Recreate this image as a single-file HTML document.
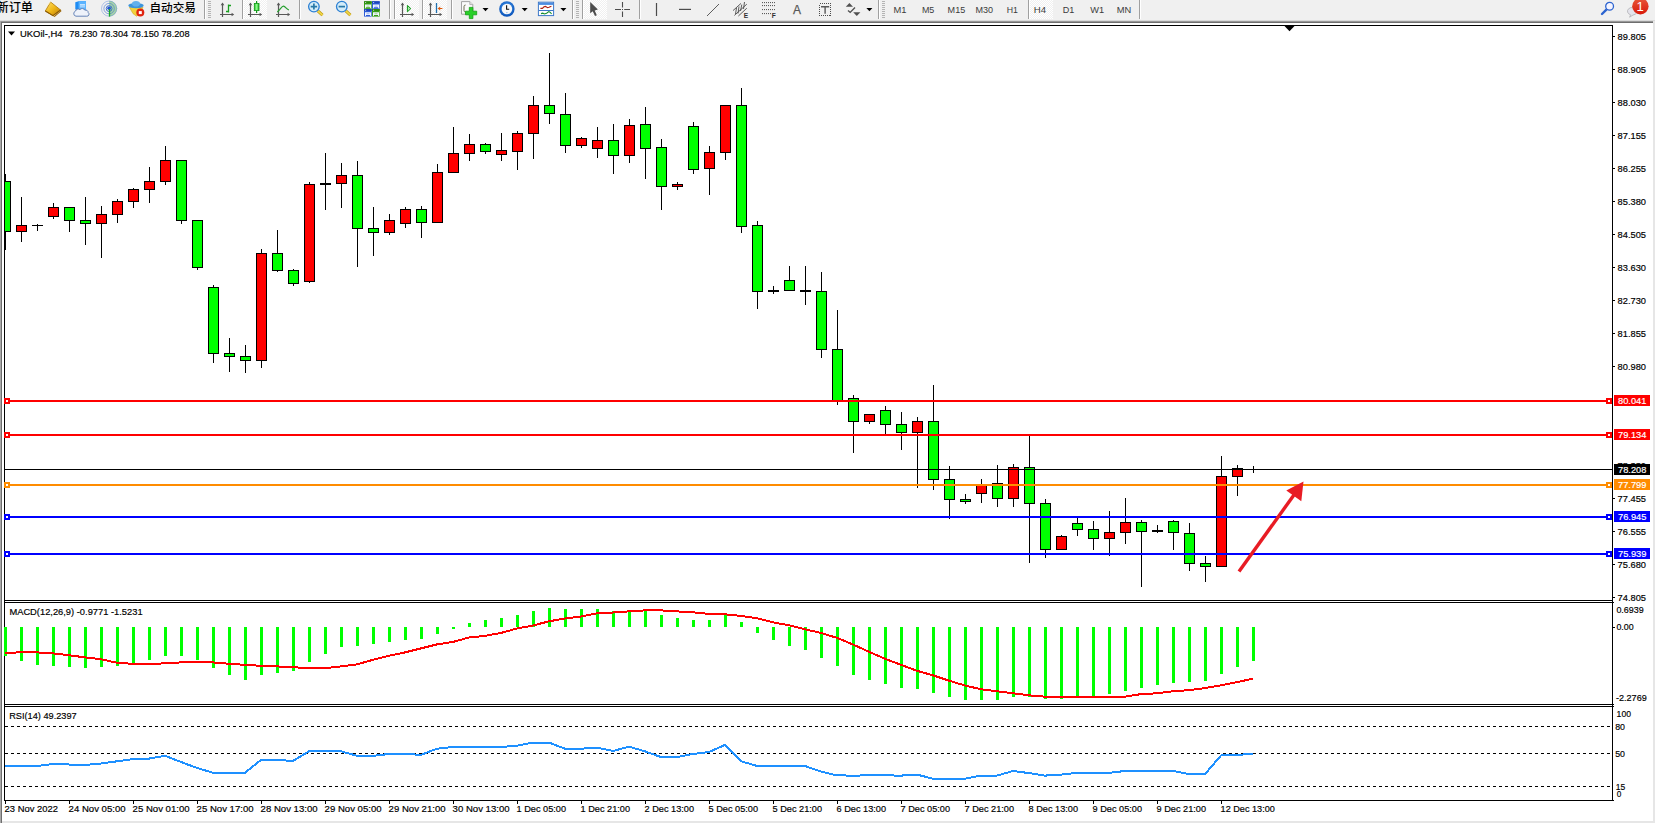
<!DOCTYPE html>
<html lang="zh"><head><meta charset="utf-8"><title>UKOil-,H4</title>
<style>html,body{margin:0;padding:0;background:#fff;overflow:hidden}svg{display:block}text{font-family:"Liberation Sans", "Noto Sans CJK SC", sans-serif;}</style></head><body>
<svg width="1655" height="823" viewBox="0 0 1655 823">
<defs><pattern id="chk" width="2" height="2" patternUnits="userSpaceOnUse"><rect width="2" height="2" fill="#f0f0f0"/><rect width="1" height="1" fill="#fff"/><rect x="1" y="1" width="1" height="1" fill="#fff"/></pattern><linearGradient id="gold" x1="0" y1="0" x2="1" y2="1"><stop offset="0" stop-color="#ffe070"/><stop offset="0.5" stop-color="#f0b818"/><stop offset="1" stop-color="#b87808"/></linearGradient><linearGradient id="redb" x1="0" y1="0" x2="0" y2="1"><stop offset="0" stop-color="#e8583a"/><stop offset="1" stop-color="#d81808"/></linearGradient><radialGradient id="clk" cx="0.5" cy="0.4" r="0.6"><stop offset="0" stop-color="#4aa0f0"/><stop offset="1" stop-color="#0850b8"/></radialGradient><linearGradient id="grn" x1="0" y1="0" x2="1" y2="0"><stop offset="0" stop-color="#20c020"/><stop offset="0.5" stop-color="#90ff90"/><stop offset="1" stop-color="#18b018"/></linearGradient></defs>
<g shape-rendering="crispEdges">
<rect x="0" y="0" width="1655" height="823" fill="#ffffff"/>
<rect x="0" y="0" width="1655" height="20" fill="#f0f0f0"/>
<rect x="0" y="20" width="1655" height="1" fill="#dadada"/>
<rect x="0" y="21" width="1655" height="1" fill="#989898"/>
<rect x="0" y="22" width="1655" height="1" fill="#6e6e6e"/>
<rect x="0" y="21" width="1" height="802" fill="#a8a8a8"/>
<rect x="1" y="22" width="1" height="801" fill="#6e6e6e"/>
<rect x="1653" y="21" width="2" height="802" fill="#e6e6e6"/>
<rect x="0" y="821" width="1655" height="2" fill="#e6e6e6"/>
<rect x="0" y="821" width="1" height="2" fill="#a8a8a8"/>
<rect x="1" y="821" width="1" height="2" fill="#6e6e6e"/>
<rect x="4" y="25" width="1609" height="1" fill="#000"/>
<rect x="4" y="25" width="1" height="776" fill="#000"/>
<rect x="1612" y="25" width="1" height="776" fill="#000"/>
<rect x="4" y="600" width="1609" height="1" fill="#000"/>
<rect x="4" y="602" width="1609" height="1" fill="#000"/>
<rect x="4" y="704" width="1609" height="1" fill="#000"/>
<rect x="4" y="706" width="1609" height="1" fill="#000"/>
<rect x="4" y="800" width="1609" height="1" fill="#000"/>
<rect x="1613" y="602" width="1" height="1" fill="#000"/>
<rect x="1613" y="704" width="1" height="1" fill="#000"/>
<rect x="1613" y="706" width="1" height="1" fill="#000"/>
<rect x="1613" y="800" width="1" height="1" fill="#000"/>
</g>
<g shape-rendering="crispEdges">
<clipPath id="cm"><rect x="5" y="26" width="1607" height="574"/></clipPath>
<g clip-path="url(#cm)">
<rect x="5" y="174" width="1" height="76" fill="#000"/>
<rect x="0" y="181" width="11" height="51" fill="#000"/>
<rect x="1" y="182" width="9" height="49" fill="#00ff00"/>
<rect x="21" y="197" width="1" height="45" fill="#000"/>
<rect x="16" y="225" width="11" height="7" fill="#000"/>
<rect x="17" y="226" width="9" height="5" fill="#ff0000"/>
<rect x="37" y="224" width="1" height="7" fill="#000"/>
<rect x="32" y="225" width="11" height="1" fill="#000"/>
<rect x="53" y="203" width="1" height="16" fill="#000"/>
<rect x="48" y="207" width="11" height="10" fill="#000"/>
<rect x="49" y="208" width="9" height="8" fill="#ff0000"/>
<rect x="69" y="207" width="1" height="25" fill="#000"/>
<rect x="64" y="207" width="11" height="14" fill="#000"/>
<rect x="65" y="208" width="9" height="12" fill="#00ff00"/>
<rect x="85" y="197" width="1" height="48" fill="#000"/>
<rect x="80" y="220" width="11" height="4" fill="#000"/>
<rect x="81" y="221" width="9" height="2" fill="#00ff00"/>
<rect x="101" y="206" width="1" height="52" fill="#000"/>
<rect x="96" y="214" width="11" height="10" fill="#000"/>
<rect x="97" y="215" width="9" height="8" fill="#ff0000"/>
<rect x="117" y="199" width="1" height="24" fill="#000"/>
<rect x="112" y="201" width="11" height="14" fill="#000"/>
<rect x="113" y="202" width="9" height="12" fill="#ff0000"/>
<rect x="133" y="188" width="1" height="20" fill="#000"/>
<rect x="128" y="189" width="11" height="13" fill="#000"/>
<rect x="129" y="190" width="9" height="11" fill="#ff0000"/>
<rect x="149" y="167" width="1" height="36" fill="#000"/>
<rect x="144" y="181" width="11" height="9" fill="#000"/>
<rect x="145" y="182" width="9" height="7" fill="#ff0000"/>
<rect x="165" y="146" width="1" height="39" fill="#000"/>
<rect x="160" y="160" width="11" height="22" fill="#000"/>
<rect x="161" y="161" width="9" height="20" fill="#ff0000"/>
<rect x="181" y="160" width="1" height="64" fill="#000"/>
<rect x="176" y="160" width="11" height="61" fill="#000"/>
<rect x="177" y="161" width="9" height="59" fill="#00ff00"/>
<rect x="197" y="220" width="1" height="50" fill="#000"/>
<rect x="192" y="220" width="11" height="48" fill="#000"/>
<rect x="193" y="221" width="9" height="46" fill="#00ff00"/>
<rect x="213" y="285" width="1" height="78" fill="#000"/>
<rect x="208" y="287" width="11" height="67" fill="#000"/>
<rect x="209" y="288" width="9" height="65" fill="#00ff00"/>
<rect x="229" y="338" width="1" height="34" fill="#000"/>
<rect x="224" y="353" width="11" height="4" fill="#000"/>
<rect x="225" y="354" width="9" height="2" fill="#00ff00"/>
<rect x="245" y="345" width="1" height="28" fill="#000"/>
<rect x="240" y="356" width="11" height="5" fill="#000"/>
<rect x="241" y="357" width="9" height="3" fill="#00ff00"/>
<rect x="261" y="249" width="1" height="119" fill="#000"/>
<rect x="256" y="253" width="11" height="108" fill="#000"/>
<rect x="257" y="254" width="9" height="106" fill="#ff0000"/>
<rect x="277" y="230" width="1" height="42" fill="#000"/>
<rect x="272" y="253" width="11" height="18" fill="#000"/>
<rect x="273" y="254" width="9" height="16" fill="#00ff00"/>
<rect x="293" y="269" width="1" height="17" fill="#000"/>
<rect x="288" y="270" width="11" height="14" fill="#000"/>
<rect x="289" y="271" width="9" height="12" fill="#00ff00"/>
<rect x="309" y="182" width="1" height="101" fill="#000"/>
<rect x="304" y="184" width="11" height="98" fill="#000"/>
<rect x="305" y="185" width="9" height="96" fill="#ff0000"/>
<rect x="325" y="153" width="1" height="57" fill="#000"/>
<rect x="320" y="183" width="11" height="2" fill="#000"/>
<rect x="341" y="163" width="1" height="45" fill="#000"/>
<rect x="336" y="175" width="11" height="9" fill="#000"/>
<rect x="337" y="176" width="9" height="7" fill="#ff0000"/>
<rect x="357" y="161" width="1" height="106" fill="#000"/>
<rect x="352" y="175" width="11" height="54" fill="#000"/>
<rect x="353" y="176" width="9" height="52" fill="#00ff00"/>
<rect x="373" y="207" width="1" height="49" fill="#000"/>
<rect x="368" y="228" width="11" height="5" fill="#000"/>
<rect x="369" y="229" width="9" height="3" fill="#00ff00"/>
<rect x="389" y="214" width="1" height="21" fill="#000"/>
<rect x="384" y="220" width="11" height="13" fill="#000"/>
<rect x="385" y="221" width="9" height="11" fill="#ff0000"/>
<rect x="405" y="207" width="1" height="21" fill="#000"/>
<rect x="400" y="209" width="11" height="15" fill="#000"/>
<rect x="401" y="210" width="9" height="13" fill="#ff0000"/>
<rect x="421" y="206" width="1" height="32" fill="#000"/>
<rect x="416" y="209" width="11" height="14" fill="#000"/>
<rect x="417" y="210" width="9" height="12" fill="#00ff00"/>
<rect x="437" y="164" width="1" height="59" fill="#000"/>
<rect x="432" y="172" width="11" height="51" fill="#000"/>
<rect x="433" y="173" width="9" height="49" fill="#ff0000"/>
<rect x="453" y="127" width="1" height="45" fill="#000"/>
<rect x="448" y="153" width="11" height="20" fill="#000"/>
<rect x="449" y="154" width="9" height="18" fill="#ff0000"/>
<rect x="469" y="134" width="1" height="27" fill="#000"/>
<rect x="464" y="144" width="11" height="10" fill="#000"/>
<rect x="465" y="145" width="9" height="8" fill="#ff0000"/>
<rect x="485" y="143" width="1" height="11" fill="#000"/>
<rect x="480" y="144" width="11" height="8" fill="#000"/>
<rect x="481" y="145" width="9" height="6" fill="#00ff00"/>
<rect x="501" y="133" width="1" height="28" fill="#000"/>
<rect x="496" y="150" width="11" height="5" fill="#000"/>
<rect x="497" y="151" width="9" height="3" fill="#ff0000"/>
<rect x="517" y="131" width="1" height="39" fill="#000"/>
<rect x="512" y="133" width="11" height="19" fill="#000"/>
<rect x="513" y="134" width="9" height="17" fill="#ff0000"/>
<rect x="533" y="96" width="1" height="63" fill="#000"/>
<rect x="528" y="105" width="11" height="29" fill="#000"/>
<rect x="529" y="106" width="9" height="27" fill="#ff0000"/>
<rect x="549" y="53" width="1" height="71" fill="#000"/>
<rect x="544" y="105" width="11" height="9" fill="#000"/>
<rect x="545" y="106" width="9" height="7" fill="#00ff00"/>
<rect x="565" y="93" width="1" height="60" fill="#000"/>
<rect x="560" y="114" width="11" height="32" fill="#000"/>
<rect x="561" y="115" width="9" height="30" fill="#00ff00"/>
<rect x="581" y="137" width="1" height="11" fill="#000"/>
<rect x="576" y="138" width="11" height="8" fill="#000"/>
<rect x="577" y="139" width="9" height="6" fill="#ff0000"/>
<rect x="597" y="127" width="1" height="31" fill="#000"/>
<rect x="592" y="140" width="11" height="9" fill="#000"/>
<rect x="593" y="141" width="9" height="7" fill="#ff0000"/>
<rect x="613" y="124" width="1" height="50" fill="#000"/>
<rect x="608" y="140" width="11" height="16" fill="#000"/>
<rect x="609" y="141" width="9" height="14" fill="#00ff00"/>
<rect x="629" y="119" width="1" height="44" fill="#000"/>
<rect x="624" y="125" width="11" height="31" fill="#000"/>
<rect x="625" y="126" width="9" height="29" fill="#ff0000"/>
<rect x="645" y="107" width="1" height="72" fill="#000"/>
<rect x="640" y="124" width="11" height="25" fill="#000"/>
<rect x="641" y="125" width="9" height="23" fill="#00ff00"/>
<rect x="661" y="139" width="1" height="71" fill="#000"/>
<rect x="656" y="147" width="11" height="40" fill="#000"/>
<rect x="657" y="148" width="9" height="38" fill="#00ff00"/>
<rect x="677" y="182" width="1" height="8" fill="#000"/>
<rect x="672" y="184" width="11" height="3" fill="#000"/>
<rect x="673" y="185" width="9" height="1" fill="#ff0000"/>
<rect x="693" y="122" width="1" height="52" fill="#000"/>
<rect x="688" y="126" width="11" height="44" fill="#000"/>
<rect x="689" y="127" width="9" height="42" fill="#00ff00"/>
<rect x="709" y="146" width="1" height="49" fill="#000"/>
<rect x="704" y="152" width="11" height="17" fill="#000"/>
<rect x="705" y="153" width="9" height="15" fill="#ff0000"/>
<rect x="725" y="105" width="1" height="55" fill="#000"/>
<rect x="720" y="105" width="11" height="48" fill="#000"/>
<rect x="721" y="106" width="9" height="46" fill="#ff0000"/>
<rect x="741" y="88" width="1" height="145" fill="#000"/>
<rect x="736" y="105" width="11" height="122" fill="#000"/>
<rect x="737" y="106" width="9" height="120" fill="#00ff00"/>
<rect x="757" y="221" width="1" height="88" fill="#000"/>
<rect x="752" y="225" width="11" height="67" fill="#000"/>
<rect x="753" y="226" width="9" height="65" fill="#00ff00"/>
<rect x="773" y="286" width="1" height="8" fill="#000"/>
<rect x="768" y="290" width="11" height="2" fill="#000"/>
<rect x="789" y="266" width="1" height="25" fill="#000"/>
<rect x="784" y="280" width="11" height="11" fill="#000"/>
<rect x="785" y="281" width="9" height="9" fill="#00ff00"/>
<rect x="805" y="266" width="1" height="39" fill="#000"/>
<rect x="800" y="290" width="11" height="2" fill="#000"/>
<rect x="821" y="272" width="1" height="86" fill="#000"/>
<rect x="816" y="291" width="11" height="59" fill="#000"/>
<rect x="817" y="292" width="9" height="57" fill="#00ff00"/>
<rect x="837" y="310" width="1" height="95" fill="#000"/>
<rect x="832" y="349" width="11" height="52" fill="#000"/>
<rect x="833" y="350" width="9" height="50" fill="#00ff00"/>
<rect x="853" y="395" width="1" height="58" fill="#000"/>
<rect x="848" y="398" width="11" height="24" fill="#000"/>
<rect x="849" y="399" width="9" height="22" fill="#00ff00"/>
<rect x="869" y="414" width="1" height="10" fill="#000"/>
<rect x="864" y="414" width="11" height="8" fill="#000"/>
<rect x="865" y="415" width="9" height="6" fill="#ff0000"/>
<rect x="885" y="406" width="1" height="28" fill="#000"/>
<rect x="880" y="410" width="11" height="15" fill="#000"/>
<rect x="881" y="411" width="9" height="13" fill="#00ff00"/>
<rect x="901" y="412" width="1" height="38" fill="#000"/>
<rect x="896" y="424" width="11" height="9" fill="#000"/>
<rect x="897" y="425" width="9" height="7" fill="#00ff00"/>
<rect x="917" y="417" width="1" height="71" fill="#000"/>
<rect x="912" y="421" width="11" height="12" fill="#000"/>
<rect x="913" y="422" width="9" height="10" fill="#ff0000"/>
<rect x="933" y="385" width="1" height="105" fill="#000"/>
<rect x="928" y="421" width="11" height="59" fill="#000"/>
<rect x="929" y="422" width="9" height="57" fill="#00ff00"/>
<rect x="949" y="466" width="1" height="53" fill="#000"/>
<rect x="944" y="479" width="11" height="21" fill="#000"/>
<rect x="945" y="480" width="9" height="19" fill="#00ff00"/>
<rect x="965" y="494" width="1" height="10" fill="#000"/>
<rect x="960" y="499" width="11" height="3" fill="#000"/>
<rect x="961" y="500" width="9" height="1" fill="#00ff00"/>
<rect x="981" y="479" width="1" height="24" fill="#000"/>
<rect x="976" y="485" width="11" height="9" fill="#000"/>
<rect x="977" y="486" width="9" height="7" fill="#ff0000"/>
<rect x="997" y="465" width="1" height="42" fill="#000"/>
<rect x="992" y="483" width="11" height="16" fill="#000"/>
<rect x="993" y="484" width="9" height="14" fill="#00ff00"/>
<rect x="1013" y="464" width="1" height="43" fill="#000"/>
<rect x="1008" y="467" width="11" height="32" fill="#000"/>
<rect x="1009" y="468" width="9" height="30" fill="#ff0000"/>
<rect x="1029" y="436" width="1" height="127" fill="#000"/>
<rect x="1024" y="467" width="11" height="37" fill="#000"/>
<rect x="1025" y="468" width="9" height="35" fill="#00ff00"/>
<rect x="1045" y="499" width="1" height="59" fill="#000"/>
<rect x="1040" y="503" width="11" height="47" fill="#000"/>
<rect x="1041" y="504" width="9" height="45" fill="#00ff00"/>
<rect x="1061" y="535" width="1" height="15" fill="#000"/>
<rect x="1056" y="536" width="11" height="14" fill="#000"/>
<rect x="1057" y="537" width="9" height="12" fill="#ff0000"/>
<rect x="1077" y="518" width="1" height="18" fill="#000"/>
<rect x="1072" y="523" width="11" height="7" fill="#000"/>
<rect x="1073" y="524" width="9" height="5" fill="#00ff00"/>
<rect x="1093" y="521" width="1" height="29" fill="#000"/>
<rect x="1088" y="529" width="11" height="10" fill="#000"/>
<rect x="1089" y="530" width="9" height="8" fill="#00ff00"/>
<rect x="1109" y="511" width="1" height="45" fill="#000"/>
<rect x="1104" y="532" width="11" height="7" fill="#000"/>
<rect x="1105" y="533" width="9" height="5" fill="#ff0000"/>
<rect x="1125" y="498" width="1" height="46" fill="#000"/>
<rect x="1120" y="522" width="11" height="11" fill="#000"/>
<rect x="1121" y="523" width="9" height="9" fill="#ff0000"/>
<rect x="1141" y="520" width="1" height="67" fill="#000"/>
<rect x="1136" y="522" width="11" height="10" fill="#000"/>
<rect x="1137" y="523" width="9" height="8" fill="#00ff00"/>
<rect x="1157" y="525" width="1" height="8" fill="#000"/>
<rect x="1152" y="530" width="11" height="2" fill="#000"/>
<rect x="1173" y="520" width="1" height="30" fill="#000"/>
<rect x="1168" y="521" width="11" height="12" fill="#000"/>
<rect x="1169" y="522" width="9" height="10" fill="#00ff00"/>
<rect x="1189" y="523" width="1" height="48" fill="#000"/>
<rect x="1184" y="533" width="11" height="31" fill="#000"/>
<rect x="1185" y="534" width="9" height="29" fill="#00ff00"/>
<rect x="1205" y="556" width="1" height="26" fill="#000"/>
<rect x="1200" y="563" width="11" height="4" fill="#000"/>
<rect x="1201" y="564" width="9" height="2" fill="#00ff00"/>
<rect x="1221" y="456" width="1" height="111" fill="#000"/>
<rect x="1216" y="476" width="11" height="91" fill="#000"/>
<rect x="1217" y="477" width="9" height="89" fill="#ff0000"/>
<rect x="1237" y="465" width="1" height="31" fill="#000"/>
<rect x="1232" y="468" width="11" height="9" fill="#000"/>
<rect x="1233" y="469" width="9" height="7" fill="#ff0000"/>
<rect x="1253" y="466" width="1" height="7" fill="#000"/>
<rect x="1248" y="469" width="11" height="1" fill="#000"/>
</g>
<polygon points="1284.5,26 1294.5,26 1289.5,31.2" fill="#000" shape-rendering="geometricPrecision"/>
<rect x="5" y="469" width="1607" height="1" fill="#000"/>
<rect x="1614" y="464" width="36" height="11" fill="#000"/>
<rect x="4" y="400" width="1608" height="2" fill="#ff0000"/>
<rect x="4" y="398" width="6" height="6" fill="#ff0000"/>
<rect x="6" y="400" width="2" height="2" fill="#fff"/>
<rect x="1606" y="398" width="6" height="6" fill="#ff0000"/>
<rect x="1608" y="400" width="2" height="2" fill="#fff"/>
<rect x="1614" y="395" width="36" height="11" fill="#ff0000"/>
<rect x="4" y="434" width="1608" height="2" fill="#ff0000"/>
<rect x="4" y="432" width="6" height="6" fill="#ff0000"/>
<rect x="6" y="434" width="2" height="2" fill="#fff"/>
<rect x="1606" y="432" width="6" height="6" fill="#ff0000"/>
<rect x="1608" y="434" width="2" height="2" fill="#fff"/>
<rect x="1614" y="429" width="36" height="11" fill="#ff0000"/>
<rect x="4" y="484" width="1608" height="2" fill="#ff8c00"/>
<rect x="4" y="482" width="6" height="6" fill="#ff8c00"/>
<rect x="6" y="484" width="2" height="2" fill="#fff"/>
<rect x="1606" y="482" width="6" height="6" fill="#ff8c00"/>
<rect x="1608" y="484" width="2" height="2" fill="#fff"/>
<rect x="1614" y="479" width="36" height="11" fill="#ff8c00"/>
<rect x="4" y="516" width="1608" height="2" fill="#0000ff"/>
<rect x="4" y="514" width="6" height="6" fill="#0000ff"/>
<rect x="6" y="516" width="2" height="2" fill="#fff"/>
<rect x="1606" y="514" width="6" height="6" fill="#0000ff"/>
<rect x="1608" y="516" width="2" height="2" fill="#fff"/>
<rect x="1614" y="511" width="36" height="11" fill="#0000ff"/>
<rect x="4" y="553" width="1608" height="2" fill="#0000ff"/>
<rect x="4" y="551" width="6" height="6" fill="#0000ff"/>
<rect x="6" y="553" width="2" height="2" fill="#fff"/>
<rect x="1606" y="551" width="6" height="6" fill="#0000ff"/>
<rect x="1608" y="553" width="2" height="2" fill="#fff"/>
<rect x="1614" y="548" width="36" height="11" fill="#0000ff"/>
<rect x="1613" y="36" width="2" height="1" fill="#000"/>
<rect x="1613" y="69" width="2" height="1" fill="#000"/>
<rect x="1613" y="102" width="2" height="1" fill="#000"/>
<rect x="1613" y="135" width="2" height="1" fill="#000"/>
<rect x="1613" y="168" width="2" height="1" fill="#000"/>
<rect x="1613" y="201" width="2" height="1" fill="#000"/>
<rect x="1613" y="234" width="2" height="1" fill="#000"/>
<rect x="1613" y="267" width="2" height="1" fill="#000"/>
<rect x="1613" y="300" width="2" height="1" fill="#000"/>
<rect x="1613" y="333" width="2" height="1" fill="#000"/>
<rect x="1613" y="366" width="2" height="1" fill="#000"/>
<rect x="1613" y="498" width="2" height="1" fill="#000"/>
<rect x="1613" y="531" width="2" height="1" fill="#000"/>
<rect x="1613" y="564" width="2" height="1" fill="#000"/>
<rect x="1613" y="597" width="2" height="1" fill="#000"/>
<rect x="1613" y="627" width="2" height="1" fill="#000"/>
<rect x="4" y="627" width="3" height="29" fill="#00ff00"/>
<rect x="20" y="627" width="3" height="34" fill="#00ff00"/>
<rect x="36" y="627" width="3" height="38" fill="#00ff00"/>
<rect x="52" y="627" width="3" height="39" fill="#00ff00"/>
<rect x="68" y="627" width="3" height="40" fill="#00ff00"/>
<rect x="84" y="627" width="3" height="41" fill="#00ff00"/>
<rect x="100" y="627" width="3" height="40" fill="#00ff00"/>
<rect x="116" y="627" width="3" height="39" fill="#00ff00"/>
<rect x="132" y="627" width="3" height="36" fill="#00ff00"/>
<rect x="148" y="627" width="3" height="33" fill="#00ff00"/>
<rect x="164" y="627" width="3" height="29" fill="#00ff00"/>
<rect x="180" y="627" width="3" height="29" fill="#00ff00"/>
<rect x="196" y="627" width="3" height="33" fill="#00ff00"/>
<rect x="212" y="627" width="3" height="41" fill="#00ff00"/>
<rect x="228" y="627" width="3" height="48" fill="#00ff00"/>
<rect x="244" y="627" width="3" height="53" fill="#00ff00"/>
<rect x="260" y="627" width="3" height="48" fill="#00ff00"/>
<rect x="276" y="627" width="3" height="46" fill="#00ff00"/>
<rect x="292" y="627" width="3" height="44" fill="#00ff00"/>
<rect x="308" y="627" width="3" height="35" fill="#00ff00"/>
<rect x="324" y="627" width="3" height="27" fill="#00ff00"/>
<rect x="340" y="627" width="3" height="20" fill="#00ff00"/>
<rect x="356" y="627" width="3" height="19" fill="#00ff00"/>
<rect x="372" y="627" width="3" height="17" fill="#00ff00"/>
<rect x="388" y="627" width="3" height="15" fill="#00ff00"/>
<rect x="404" y="627" width="3" height="13" fill="#00ff00"/>
<rect x="420" y="627" width="3" height="12" fill="#00ff00"/>
<rect x="436" y="627" width="3" height="7" fill="#00ff00"/>
<rect x="452" y="627" width="3" height="2" fill="#00ff00"/>
<rect x="468" y="623" width="3" height="4" fill="#00ff00"/>
<rect x="484" y="620" width="3" height="7" fill="#00ff00"/>
<rect x="500" y="618" width="3" height="9" fill="#00ff00"/>
<rect x="516" y="615" width="3" height="12" fill="#00ff00"/>
<rect x="532" y="611" width="3" height="16" fill="#00ff00"/>
<rect x="548" y="608" width="3" height="19" fill="#00ff00"/>
<rect x="564" y="609" width="3" height="18" fill="#00ff00"/>
<rect x="580" y="609" width="3" height="18" fill="#00ff00"/>
<rect x="596" y="609" width="3" height="18" fill="#00ff00"/>
<rect x="612" y="611" width="3" height="16" fill="#00ff00"/>
<rect x="628" y="610" width="3" height="17" fill="#00ff00"/>
<rect x="644" y="611" width="3" height="16" fill="#00ff00"/>
<rect x="660" y="615" width="3" height="12" fill="#00ff00"/>
<rect x="676" y="618" width="3" height="9" fill="#00ff00"/>
<rect x="692" y="620" width="3" height="7" fill="#00ff00"/>
<rect x="708" y="620" width="3" height="7" fill="#00ff00"/>
<rect x="724" y="615" width="3" height="12" fill="#00ff00"/>
<rect x="740" y="622" width="3" height="5" fill="#00ff00"/>
<rect x="756" y="627" width="3" height="6" fill="#00ff00"/>
<rect x="772" y="627" width="3" height="13" fill="#00ff00"/>
<rect x="788" y="627" width="3" height="19" fill="#00ff00"/>
<rect x="804" y="627" width="3" height="23" fill="#00ff00"/>
<rect x="820" y="627" width="3" height="31" fill="#00ff00"/>
<rect x="836" y="627" width="3" height="39" fill="#00ff00"/>
<rect x="852" y="627" width="3" height="48" fill="#00ff00"/>
<rect x="868" y="627" width="3" height="53" fill="#00ff00"/>
<rect x="884" y="627" width="3" height="57" fill="#00ff00"/>
<rect x="900" y="627" width="3" height="61" fill="#00ff00"/>
<rect x="916" y="627" width="3" height="62" fill="#00ff00"/>
<rect x="932" y="627" width="3" height="66" fill="#00ff00"/>
<rect x="948" y="627" width="3" height="70" fill="#00ff00"/>
<rect x="964" y="627" width="3" height="73" fill="#00ff00"/>
<rect x="980" y="627" width="3" height="73" fill="#00ff00"/>
<rect x="996" y="627" width="3" height="73" fill="#00ff00"/>
<rect x="1012" y="627" width="3" height="70" fill="#00ff00"/>
<rect x="1028" y="627" width="3" height="70" fill="#00ff00"/>
<rect x="1044" y="627" width="3" height="72" fill="#00ff00"/>
<rect x="1060" y="627" width="3" height="72" fill="#00ff00"/>
<rect x="1076" y="627" width="3" height="70" fill="#00ff00"/>
<rect x="1092" y="627" width="3" height="69" fill="#00ff00"/>
<rect x="1108" y="627" width="3" height="67" fill="#00ff00"/>
<rect x="1124" y="627" width="3" height="64" fill="#00ff00"/>
<rect x="1140" y="627" width="3" height="61" fill="#00ff00"/>
<rect x="1156" y="627" width="3" height="58" fill="#00ff00"/>
<rect x="1172" y="627" width="3" height="56" fill="#00ff00"/>
<rect x="1188" y="627" width="3" height="55" fill="#00ff00"/>
<rect x="1204" y="627" width="3" height="54" fill="#00ff00"/>
<rect x="1220" y="627" width="3" height="47" fill="#00ff00"/>
<rect x="1236" y="627" width="3" height="40" fill="#00ff00"/>
<rect x="1252" y="627" width="3" height="34" fill="#00ff00"/>
</g>
<clipPath id="c2"><rect x="5" y="603" width="1607" height="101"/></clipPath>
<polyline clip-path="url(#c2)" points="5,653.2 21,652.2 37,652.4 53,653.4 69,655.2 85,657.4 101,659.2 117,662.8 133,663.8 149,663.8 165,663.4 181,662.4 197,662.4 213,662.4 229,663.8 245,664.8 261,665.8 277,666.4 293,667.2 309,668.2 325,668.2 341,666.4 357,664.4 373,659.8 389,655.8 405,652.4 421,648.4 437,644.4 453,641.9 469,637.5 485,635.9 501,632.9 517,628.5 533,625.5 549,621.3 565,618.5 581,616.5 597,613.3 613,612.5 629,611.4 645,610.4 661,610.4 677,611.4 693,612.3 709,613.9 725,614.3 741,615.9 757,618.3 773,622.3 789,625.3 805,629.3 821,632.9 837,637.9 853,644.5 869,651.8 885,658.8 901,664.8 917,670.8 933,675.4 949,680.7 965,685.5 981,689.3 997,691.3 1013,693.3 1029,695.3 1045,696.7 1061,696.7 1077,696.7 1093,696.7 1109,696.7 1125,696.7 1141,694.1 1157,693.3 1173,691.3 1189,690.1 1205,688.1 1221,685.3 1237,682.1 1253,678.7" fill="none" stroke="#ff0000" stroke-width="2" stroke-linejoin="round" shape-rendering="crispEdges"/>
<g shape-rendering="crispEdges">
<line x1="5" y1="726.5" x2="1612" y2="726.5" stroke="#000" stroke-width="1" stroke-dasharray="3,3"/>
<line x1="5" y1="753.5" x2="1612" y2="753.5" stroke="#000" stroke-width="1" stroke-dasharray="3,3"/>
<line x1="5" y1="786.5" x2="1612" y2="786.5" stroke="#000" stroke-width="1" stroke-dasharray="3,3"/>
<rect x="5" y="801" width="1" height="3" fill="#000"/>
<rect x="69" y="801" width="1" height="3" fill="#000"/>
<rect x="133" y="801" width="1" height="3" fill="#000"/>
<rect x="197" y="801" width="1" height="3" fill="#000"/>
<rect x="261" y="801" width="1" height="3" fill="#000"/>
<rect x="325" y="801" width="1" height="3" fill="#000"/>
<rect x="389" y="801" width="1" height="3" fill="#000"/>
<rect x="453" y="801" width="1" height="3" fill="#000"/>
<rect x="517" y="801" width="1" height="3" fill="#000"/>
<rect x="581" y="801" width="1" height="3" fill="#000"/>
<rect x="645" y="801" width="1" height="3" fill="#000"/>
<rect x="709" y="801" width="1" height="3" fill="#000"/>
<rect x="773" y="801" width="1" height="3" fill="#000"/>
<rect x="837" y="801" width="1" height="3" fill="#000"/>
<rect x="901" y="801" width="1" height="3" fill="#000"/>
<rect x="965" y="801" width="1" height="3" fill="#000"/>
<rect x="1029" y="801" width="1" height="3" fill="#000"/>
<rect x="1093" y="801" width="1" height="3" fill="#000"/>
<rect x="1157" y="801" width="1" height="3" fill="#000"/>
<rect x="1221" y="801" width="1" height="3" fill="#000"/>
</g>
<clipPath id="c3"><rect x="5" y="707" width="1607" height="93"/></clipPath>
<polyline clip-path="url(#c3)" points="5,766 21,766 37,766 53,764 69,764.5 85,765 101,763.5 117,761.3 133,759.1 149,758.6 165,755.8 181,762 197,768 213,772.8 229,772.8 245,772.8 261,759.9 277,760 293,760.9 309,751.3 325,751.3 341,751.3 357,755.8 373,755.8 389,754 405,754 421,754.8 437,748.7 453,747 469,747 485,747 501,747 517,745.7 533,742.6 549,742.6 565,748.7 581,748.7 597,747.7 613,751 629,746.7 645,751.3 661,757.1 677,757.1 693,754 709,752 725,744.9 741,761.2 757,766 773,766 789,766 805,766 821,771.6 837,775.4 853,775.6 869,775.4 885,775.4 901,775.6 917,774.6 933,778.7 949,778.7 965,778.7 981,775.6 997,775.6 1013,771 1029,773.1 1045,775.6 1061,774.6 1077,772.8 1093,772.8 1109,772.8 1125,771 1141,771 1157,771 1173,771 1189,774.1 1205,774.1 1221,755.5 1237,755 1253,753.6" fill="none" stroke="#1e90ff" stroke-width="2" stroke-linejoin="round" shape-rendering="crispEdges"/>
<line x1="1239" y1="571.5" x2="1295" y2="493.5" stroke="#e81c24" stroke-width="3.4"/>
<polygon points="1303.5,481.5 1286.3,490.6 1301.3,501.2" fill="#e81c24"/>
<text x="20" y="36.6" font-size="9.6px" fill="#000" textLength="42.5" lengthAdjust="spacingAndGlyphs" stroke="#000" stroke-width="0.18">UKOil-,H4</text>
<text x="69.3" y="36.6" font-size="9.6px" fill="#000" textLength="120.3" lengthAdjust="spacingAndGlyphs" stroke="#000" stroke-width="0.18">78.230 78.304 78.150 78.208</text>
<polygon points="8,31.5 15,31.5 11.5,35.5" fill="#000"/>
<text x="1617.6" y="39.6" font-size="9.6px" fill="#000" textLength="28.4" lengthAdjust="spacingAndGlyphs" stroke="#000" stroke-width="0.18">89.805</text>
<text x="1617.6" y="72.6" font-size="9.6px" fill="#000" textLength="28.4" lengthAdjust="spacingAndGlyphs" stroke="#000" stroke-width="0.18">88.905</text>
<text x="1617.6" y="105.6" font-size="9.6px" fill="#000" textLength="28.4" lengthAdjust="spacingAndGlyphs" stroke="#000" stroke-width="0.18">88.030</text>
<text x="1617.6" y="138.6" font-size="9.6px" fill="#000" textLength="28.4" lengthAdjust="spacingAndGlyphs" stroke="#000" stroke-width="0.18">87.155</text>
<text x="1617.6" y="171.6" font-size="9.6px" fill="#000" textLength="28.4" lengthAdjust="spacingAndGlyphs" stroke="#000" stroke-width="0.18">86.255</text>
<text x="1617.6" y="204.6" font-size="9.6px" fill="#000" textLength="28.4" lengthAdjust="spacingAndGlyphs" stroke="#000" stroke-width="0.18">85.380</text>
<text x="1617.6" y="237.6" font-size="9.6px" fill="#000" textLength="28.4" lengthAdjust="spacingAndGlyphs" stroke="#000" stroke-width="0.18">84.505</text>
<text x="1617.6" y="270.6" font-size="9.6px" fill="#000" textLength="28.4" lengthAdjust="spacingAndGlyphs" stroke="#000" stroke-width="0.18">83.630</text>
<text x="1617.6" y="303.6" font-size="9.6px" fill="#000" textLength="28.4" lengthAdjust="spacingAndGlyphs" stroke="#000" stroke-width="0.18">82.730</text>
<text x="1617.6" y="336.6" font-size="9.6px" fill="#000" textLength="28.4" lengthAdjust="spacingAndGlyphs" stroke="#000" stroke-width="0.18">81.855</text>
<text x="1617.6" y="369.6" font-size="9.6px" fill="#000" textLength="28.4" lengthAdjust="spacingAndGlyphs" stroke="#000" stroke-width="0.18">80.980</text>
<text x="1617.6" y="468.6" font-size="9.6px" fill="#000" textLength="28.4" lengthAdjust="spacingAndGlyphs" stroke="#000" stroke-width="0.18">78.330</text>
<text x="1617.6" y="501.6" font-size="9.6px" fill="#000" textLength="28.4" lengthAdjust="spacingAndGlyphs" stroke="#000" stroke-width="0.18">77.455</text>
<text x="1617.6" y="534.6" font-size="9.6px" fill="#000" textLength="28.4" lengthAdjust="spacingAndGlyphs" stroke="#000" stroke-width="0.18">76.555</text>
<text x="1617.6" y="567.6" font-size="9.6px" fill="#000" textLength="28.4" lengthAdjust="spacingAndGlyphs" stroke="#000" stroke-width="0.18">75.680</text>
<text x="1617.6" y="600.6" font-size="9.6px" fill="#000" textLength="28.4" lengthAdjust="spacingAndGlyphs" stroke="#000" stroke-width="0.18">74.805</text>
<rect x="1614" y="464" width="36" height="11" fill="#000" shape-rendering="crispEdges"/>
<text x="1618" y="403.6" font-size="9.6px" fill="#fff" textLength="28.4" lengthAdjust="spacingAndGlyphs" stroke="#fff" stroke-width="0.18">80.041</text>
<text x="1618" y="437.6" font-size="9.6px" fill="#fff" textLength="28.4" lengthAdjust="spacingAndGlyphs" stroke="#fff" stroke-width="0.18">79.134</text>
<text x="1618" y="472.6" font-size="9.6px" fill="#fff" textLength="28.4" lengthAdjust="spacingAndGlyphs" stroke="#fff" stroke-width="0.18">78.208</text>
<text x="1618" y="487.6" font-size="9.6px" fill="#fff" textLength="28.4" lengthAdjust="spacingAndGlyphs" stroke="#fff" stroke-width="0.18">77.799</text>
<text x="1618" y="519.6" font-size="9.6px" fill="#fff" textLength="28.4" lengthAdjust="spacingAndGlyphs" stroke="#fff" stroke-width="0.18">76.945</text>
<text x="1618" y="556.6" font-size="9.6px" fill="#fff" textLength="28.4" lengthAdjust="spacingAndGlyphs" stroke="#fff" stroke-width="0.18">75.939</text>
<text x="9.4" y="614.6" font-size="9.6px" fill="#000" textLength="133.2" lengthAdjust="spacingAndGlyphs" stroke="#000" stroke-width="0.18">MACD(12,26,9) -0.9771 -1.5231</text>
<text x="9.2" y="718.6" font-size="9.6px" fill="#000" textLength="67.5" lengthAdjust="spacingAndGlyphs" stroke="#000" stroke-width="0.18">RSI(14) 49.2397</text>
<text x="1616.4" y="612.6" font-size="9.6px" fill="#000" textLength="27.3" lengthAdjust="spacingAndGlyphs" stroke="#000" stroke-width="0.18">0.6939</text>
<text x="1616.4" y="630.3" font-size="9.6px" fill="#000" textLength="17.3" lengthAdjust="spacingAndGlyphs" stroke="#000" stroke-width="0.18">0.00</text>
<text x="1616" y="700.6" font-size="9.6px" fill="#000" textLength="30.7" lengthAdjust="spacingAndGlyphs" stroke="#000" stroke-width="0.18">-2.2769</text>
<text x="1616.6" y="716.9" font-size="9.6px" fill="#000" textLength="14.4" lengthAdjust="spacingAndGlyphs" stroke="#000" stroke-width="0.18">100</text>
<text x="1615.2" y="729.6" font-size="9.6px" fill="#000" textLength="9.8" lengthAdjust="spacingAndGlyphs" stroke="#000" stroke-width="0.18">80</text>
<text x="1615.2" y="756.6" font-size="9.6px" fill="#000" textLength="9.8" lengthAdjust="spacingAndGlyphs" stroke="#000" stroke-width="0.18">50</text>
<text x="1615.8" y="789.6" font-size="9.6px" fill="#000" textLength="9.4" lengthAdjust="spacingAndGlyphs" stroke="#000" stroke-width="0.18">15</text>
<text x="1616.7" y="796.6" font-size="9.6px" fill="#000" textLength="4.6" lengthAdjust="spacingAndGlyphs" stroke="#000" stroke-width="0.18">0</text>
<text x="4.6" y="812.1" font-size="9.6px" fill="#000" textLength="53.3" lengthAdjust="spacingAndGlyphs" stroke="#000" stroke-width="0.18">23 Nov 2022</text>
<text x="68.6" y="812.1" font-size="9.6px" fill="#000" textLength="57" lengthAdjust="spacingAndGlyphs" stroke="#000" stroke-width="0.18">24 Nov 05:00</text>
<text x="132.6" y="812.1" font-size="9.6px" fill="#000" textLength="57" lengthAdjust="spacingAndGlyphs" stroke="#000" stroke-width="0.18">25 Nov 01:00</text>
<text x="196.6" y="812.1" font-size="9.6px" fill="#000" textLength="57" lengthAdjust="spacingAndGlyphs" stroke="#000" stroke-width="0.18">25 Nov 17:00</text>
<text x="260.6" y="812.1" font-size="9.6px" fill="#000" textLength="57" lengthAdjust="spacingAndGlyphs" stroke="#000" stroke-width="0.18">28 Nov 13:00</text>
<text x="324.6" y="812.1" font-size="9.6px" fill="#000" textLength="57" lengthAdjust="spacingAndGlyphs" stroke="#000" stroke-width="0.18">29 Nov 05:00</text>
<text x="388.6" y="812.1" font-size="9.6px" fill="#000" textLength="57" lengthAdjust="spacingAndGlyphs" stroke="#000" stroke-width="0.18">29 Nov 21:00</text>
<text x="452.6" y="812.1" font-size="9.6px" fill="#000" textLength="57" lengthAdjust="spacingAndGlyphs" stroke="#000" stroke-width="0.18">30 Nov 13:00</text>
<text x="516.6" y="812.1" font-size="9.6px" fill="#000" textLength="49.5" lengthAdjust="spacingAndGlyphs" stroke="#000" stroke-width="0.18">1 Dec 05:00</text>
<text x="580.6" y="812.1" font-size="9.6px" fill="#000" textLength="49.5" lengthAdjust="spacingAndGlyphs" stroke="#000" stroke-width="0.18">1 Dec 21:00</text>
<text x="644.6" y="812.1" font-size="9.6px" fill="#000" textLength="49.5" lengthAdjust="spacingAndGlyphs" stroke="#000" stroke-width="0.18">2 Dec 13:00</text>
<text x="708.6" y="812.1" font-size="9.6px" fill="#000" textLength="49.5" lengthAdjust="spacingAndGlyphs" stroke="#000" stroke-width="0.18">5 Dec 05:00</text>
<text x="772.6" y="812.1" font-size="9.6px" fill="#000" textLength="49.5" lengthAdjust="spacingAndGlyphs" stroke="#000" stroke-width="0.18">5 Dec 21:00</text>
<text x="836.6" y="812.1" font-size="9.6px" fill="#000" textLength="49.5" lengthAdjust="spacingAndGlyphs" stroke="#000" stroke-width="0.18">6 Dec 13:00</text>
<text x="900.6" y="812.1" font-size="9.6px" fill="#000" textLength="49.5" lengthAdjust="spacingAndGlyphs" stroke="#000" stroke-width="0.18">7 Dec 05:00</text>
<text x="964.6" y="812.1" font-size="9.6px" fill="#000" textLength="49.5" lengthAdjust="spacingAndGlyphs" stroke="#000" stroke-width="0.18">7 Dec 21:00</text>
<text x="1028.6" y="812.1" font-size="9.6px" fill="#000" textLength="49.5" lengthAdjust="spacingAndGlyphs" stroke="#000" stroke-width="0.18">8 Dec 13:00</text>
<text x="1092.6" y="812.1" font-size="9.6px" fill="#000" textLength="49.5" lengthAdjust="spacingAndGlyphs" stroke="#000" stroke-width="0.18">9 Dec 05:00</text>
<text x="1156.6" y="812.1" font-size="9.6px" fill="#000" textLength="49.5" lengthAdjust="spacingAndGlyphs" stroke="#000" stroke-width="0.18">9 Dec 21:00</text>
<text x="1220.6" y="812.1" font-size="9.6px" fill="#000" textLength="54.3" lengthAdjust="spacingAndGlyphs" stroke="#000" stroke-width="0.18">12 Dec 13:00</text>
<g id="toolbar">
<rect x="243" y="0" width="24" height="19" fill="url(#chk)" shape-rendering="crispEdges"/>
<rect x="395" y="0" width="24" height="19" fill="url(#chk)" shape-rendering="crispEdges"/>
<rect x="423" y="0" width="24" height="19" fill="url(#chk)" shape-rendering="crispEdges"/>
<rect x="583" y="0" width="24" height="19" fill="url(#chk)" shape-rendering="crispEdges"/>
<rect x="1029" y="0" width="24" height="19" fill="url(#chk)" shape-rendering="crispEdges"/>
<rect x="204" y="0" width="1" height="19" fill="#a0a0a0" shape-rendering="crispEdges"/>
<rect x="205" y="0" width="1" height="19" fill="#ffffff" shape-rendering="crispEdges"/>
<rect x="242" y="0" width="1" height="19" fill="#a0a0a0" shape-rendering="crispEdges"/>
<rect x="243" y="0" width="1" height="19" fill="#ffffff" shape-rendering="crispEdges"/>
<rect x="299" y="0" width="1" height="19" fill="#a0a0a0" shape-rendering="crispEdges"/>
<rect x="300" y="0" width="1" height="19" fill="#ffffff" shape-rendering="crispEdges"/>
<rect x="389" y="0" width="1" height="19" fill="#a0a0a0" shape-rendering="crispEdges"/>
<rect x="390" y="0" width="1" height="19" fill="#ffffff" shape-rendering="crispEdges"/>
<rect x="394" y="0" width="1" height="19" fill="#a0a0a0" shape-rendering="crispEdges"/>
<rect x="395" y="0" width="1" height="19" fill="#ffffff" shape-rendering="crispEdges"/>
<rect x="422" y="0" width="1" height="19" fill="#a0a0a0" shape-rendering="crispEdges"/>
<rect x="423" y="0" width="1" height="19" fill="#ffffff" shape-rendering="crispEdges"/>
<rect x="451" y="0" width="1" height="19" fill="#a0a0a0" shape-rendering="crispEdges"/>
<rect x="452" y="0" width="1" height="19" fill="#ffffff" shape-rendering="crispEdges"/>
<rect x="572" y="0" width="1" height="19" fill="#a0a0a0" shape-rendering="crispEdges"/>
<rect x="573" y="0" width="1" height="19" fill="#ffffff" shape-rendering="crispEdges"/>
<rect x="582" y="0" width="1" height="19" fill="#a0a0a0" shape-rendering="crispEdges"/>
<rect x="583" y="0" width="1" height="19" fill="#ffffff" shape-rendering="crispEdges"/>
<rect x="639" y="0" width="1" height="19" fill="#a0a0a0" shape-rendering="crispEdges"/>
<rect x="640" y="0" width="1" height="19" fill="#ffffff" shape-rendering="crispEdges"/>
<rect x="878" y="0" width="1" height="19" fill="#a0a0a0" shape-rendering="crispEdges"/>
<rect x="879" y="0" width="1" height="19" fill="#ffffff" shape-rendering="crispEdges"/>
<rect x="1028" y="0" width="1" height="19" fill="#a0a0a0" shape-rendering="crispEdges"/>
<rect x="1029" y="0" width="1" height="19" fill="#ffffff" shape-rendering="crispEdges"/>
<rect x="1139" y="0" width="1" height="19" fill="#a0a0a0" shape-rendering="crispEdges"/>
<rect x="1140" y="0" width="1" height="19" fill="#ffffff" shape-rendering="crispEdges"/>
<rect x="208" y="1" width="3" height="1" fill="#b4b4b4" shape-rendering="crispEdges"/>
<rect x="208" y="3" width="3" height="1" fill="#b4b4b4" shape-rendering="crispEdges"/>
<rect x="208" y="5" width="3" height="1" fill="#b4b4b4" shape-rendering="crispEdges"/>
<rect x="208" y="7" width="3" height="1" fill="#b4b4b4" shape-rendering="crispEdges"/>
<rect x="208" y="9" width="3" height="1" fill="#b4b4b4" shape-rendering="crispEdges"/>
<rect x="208" y="11" width="3" height="1" fill="#b4b4b4" shape-rendering="crispEdges"/>
<rect x="208" y="13" width="3" height="1" fill="#b4b4b4" shape-rendering="crispEdges"/>
<rect x="208" y="15" width="3" height="1" fill="#b4b4b4" shape-rendering="crispEdges"/>
<rect x="208" y="17" width="3" height="1" fill="#b4b4b4" shape-rendering="crispEdges"/>
<rect x="576" y="1" width="3" height="1" fill="#b4b4b4" shape-rendering="crispEdges"/>
<rect x="576" y="3" width="3" height="1" fill="#b4b4b4" shape-rendering="crispEdges"/>
<rect x="576" y="5" width="3" height="1" fill="#b4b4b4" shape-rendering="crispEdges"/>
<rect x="576" y="7" width="3" height="1" fill="#b4b4b4" shape-rendering="crispEdges"/>
<rect x="576" y="9" width="3" height="1" fill="#b4b4b4" shape-rendering="crispEdges"/>
<rect x="576" y="11" width="3" height="1" fill="#b4b4b4" shape-rendering="crispEdges"/>
<rect x="576" y="13" width="3" height="1" fill="#b4b4b4" shape-rendering="crispEdges"/>
<rect x="576" y="15" width="3" height="1" fill="#b4b4b4" shape-rendering="crispEdges"/>
<rect x="576" y="17" width="3" height="1" fill="#b4b4b4" shape-rendering="crispEdges"/>
<rect x="882" y="1" width="3" height="1" fill="#b4b4b4" shape-rendering="crispEdges"/>
<rect x="882" y="3" width="3" height="1" fill="#b4b4b4" shape-rendering="crispEdges"/>
<rect x="882" y="5" width="3" height="1" fill="#b4b4b4" shape-rendering="crispEdges"/>
<rect x="882" y="7" width="3" height="1" fill="#b4b4b4" shape-rendering="crispEdges"/>
<rect x="882" y="9" width="3" height="1" fill="#b4b4b4" shape-rendering="crispEdges"/>
<rect x="882" y="11" width="3" height="1" fill="#b4b4b4" shape-rendering="crispEdges"/>
<rect x="882" y="13" width="3" height="1" fill="#b4b4b4" shape-rendering="crispEdges"/>
<rect x="882" y="15" width="3" height="1" fill="#b4b4b4" shape-rendering="crispEdges"/>
<rect x="882" y="17" width="3" height="1" fill="#b4b4b4" shape-rendering="crispEdges"/>
<text x="-3.5" y="12" font-size="12.2px" fill="#000" font-weight="500">新订单</text>
<text x="149.5" y="12" font-size="11.8px" fill="#000" textLength="46.5" lengthAdjust="spacingAndGlyphs" font-weight="500">自动交易</text>
<text x="893.4" y="13" font-size="9.6px" fill="#3c3c3c" textLength="13" lengthAdjust="spacingAndGlyphs">M1</text>
<text x="921.9" y="13" font-size="9.6px" fill="#3c3c3c" textLength="12.4" lengthAdjust="spacingAndGlyphs">M5</text>
<text x="947.6" y="13" font-size="9.6px" fill="#3c3c3c" textLength="17.6" lengthAdjust="spacingAndGlyphs">M15</text>
<text x="975.5" y="13" font-size="9.6px" fill="#3c3c3c" textLength="17.6" lengthAdjust="spacingAndGlyphs">M30</text>
<text x="1006.8" y="13" font-size="9.6px" fill="#3c3c3c" textLength="11.2" lengthAdjust="spacingAndGlyphs">H1</text>
<text x="1033.8" y="13" font-size="9.6px" fill="#3c3c3c" textLength="12.3" lengthAdjust="spacingAndGlyphs">H4</text>
<text x="1062.7" y="13" font-size="9.6px" fill="#3c3c3c" textLength="11.6" lengthAdjust="spacingAndGlyphs">D1</text>
<text x="1090.3" y="13" font-size="9.6px" fill="#3c3c3c" textLength="13.9" lengthAdjust="spacingAndGlyphs">W1</text>
<text x="1116.7" y="13" font-size="9.6px" fill="#3c3c3c" textLength="14.5" lengthAdjust="spacingAndGlyphs">MN</text>
</g>
<g>
<path d="M47 12.2 L54.6 17 L61.6 11 L60.6 10 L53 15.6 Z" fill="#9a6408"/>
<path d="M46.2 11.6 L53.6 16.4 L61 10.6 L60.6 10 L53 15 Z" fill="#f4e2a0"/>
<path d="M50.6 2 L60.6 10 L53 15.6 L45.3 11 Z" fill="url(#gold)" stroke="#b07808" stroke-width="0.8" stroke-linejoin="round"/>
<path d="M45.3 11 L53 15.6 L60.6 10" fill="none" stroke="#8a5804" stroke-width="1.1" stroke-linejoin="round"/>
<path d="M47.6 5.6 Q48.6 3 50.6 2" fill="none" stroke="#fff0b0" stroke-width="0.9"/>
</g>
<g>
<path d="M75.3 2.2 L78.6 1.2 H86 V9.5 H75.3 Z" fill="#1e8cf4"/>
<path d="M78.6 1.2 H86 V9.5 H78.6 Z" fill="#5cb4ff"/>
<path d="M80 4.2 H85 V5.4 H80 Z M80 6.6 H85 V7.2 H80Z" fill="#e8f4ff"/>
<path d="M76 16.2 a2.6 2.6 0 0 1 -0.6 -5 a3 3 0 0 1 4.6 -1.6 a2.8 2.8 0 0 1 4.8 0.6 a2.5 2.5 0 0 1 3.4 2.4 a2 2 0 0 1 -1.4 3.6 Z" fill="#eef2fa" stroke="#5878b0" stroke-width="0.9"/>
</g>
<g fill="none">
<path d="M109.1 8.6 L109.1 0.8 A7.8 7.8 0 0 1 109.6 16.4 Z" fill="#8cc890" opacity="0.75"/>
<circle cx="109.1" cy="8.6" r="7.6" stroke="#5a86d8" stroke-width="0.8" opacity="0.55"/>
<circle cx="109.1" cy="8.6" r="5.2" stroke="#4878d0" stroke-width="0.9" opacity="0.7"/>
<circle cx="109.1" cy="8.6" r="2.9" stroke="#3468c8" stroke-width="1" opacity="0.9"/>
<circle cx="109.1" cy="8.3" r="1.8" fill="#2458d0"/>
<path d="M109.5 9 V16.6" stroke="#18a828" stroke-width="1.3"/>
</g>
<g>
<path d="M129.4 7.2 L143 7.2 L140 13 L136.6 16.2 L133 13.6 Z" fill="#f2d23c" stroke="#d0a820" stroke-width="0.6"/>
<ellipse cx="136" cy="5.6" rx="7.7" ry="2.6" fill="#3c94dc"/>
<ellipse cx="136" cy="3.8" rx="4" ry="2.8" fill="#62b0ec"/>
<circle cx="140.3" cy="12.6" r="4" fill="#e02410"/>
<rect x="138.8" y="11.1" width="3" height="3" fill="#fff"/>
</g>
<g stroke="#585858" stroke-width="1.2" fill="none">
<path d="M222.5 3.5 V17 M220 14.5 H233"/>
</g>
<path d="M222.5 2.6 l-1.8 2.6 h3.6 z M234.2 14.5 l-2.6 -1.8 v3.6 z" fill="#585858"/>
<path d="M228.5 4.5 V12.5 M228.5 5.5 H231 M226 11.5 H228.5" stroke="#18a020" stroke-width="1.3" fill="none"/>
<g stroke="#585858" stroke-width="1.2" fill="none">
<path d="M250.5 3.5 V17 M248 14.5 H261"/>
</g>
<path d="M250.5 2.6 l-1.8 2.6 h3.6 z M262.2 14.5 l-2.6 -1.8 v3.6 z" fill="#585858"/>
<path d="M256.6 1 V13" stroke="#109818" stroke-width="1.2"/>
<rect x="254.3" y="3.4" width="4.7" height="7.2" fill="url(#grn)" stroke="#109818" stroke-width="0.8"/>
<g stroke="#585858" stroke-width="1.2" fill="none">
<path d="M278.5 3.5 V17 M276 14.5 H289"/>
</g>
<path d="M278.5 2.6 l-1.8 2.6 h3.6 z M290.2 14.5 l-2.6 -1.8 v3.6 z" fill="#585858"/>
<path d="M277.2 12 C280 10.5 281.5 6 283.5 6.2 C285.5 6.4 286.5 9.6 289 10" stroke="#28a030" stroke-width="1.2" fill="none"/>
<path d="M317.9 10.8 L322.5 15.2" stroke="#c09810" stroke-width="3" stroke-linecap="butt"/>
<path d="M317.9 10.8 L322.5 15.2" stroke="#f0d848" stroke-width="1.6" stroke-linecap="butt"/>
<circle cx="313.9" cy="6.6" r="5.3" fill="#d4ecf8" stroke="#2c80d4" stroke-width="1.3"/>
<path d="M310.7 6.6 H317.1 M313.9 3.6 V9.6" stroke="#2878a8" stroke-width="1.7"/>
<path d="M345.8 10.8 L350.4 15.2" stroke="#c09810" stroke-width="3" stroke-linecap="butt"/>
<path d="M345.8 10.8 L350.4 15.2" stroke="#f0d848" stroke-width="1.6" stroke-linecap="butt"/>
<circle cx="341.8" cy="6.6" r="5.3" fill="#d4ecf8" stroke="#2c80d4" stroke-width="1.3"/>
<path d="M338.6 6.6 H345" stroke="#2878a8" stroke-width="1.7"/>
<rect x="364" y="1.3" width="7.7" height="7.6" fill="#38a018"/>
<rect x="364" y="1.3" width="7.7" height="2" fill="#2c8810"/>
<path d="M365 4.6 h6 v3.6 h-0.9 v-0.9 h-4.2 v0.9 h-0.9 z" fill="#f4f8ff"/>
<rect x="366.5" y="5.7" width="3" height="0.8" fill="#38a018" opacity="0.55"/>
<rect x="365.2" y="2.1" width="0.9" height="0.9" fill="#e8f0ff"/>
<rect x="372" y="1.3" width="7.7" height="7.6" fill="#2c5cd8"/>
<rect x="372" y="1.3" width="7.7" height="2" fill="#1c44b8"/>
<path d="M373 4.6 h6 v3.6 h-0.9 v-0.9 h-4.2 v0.9 h-0.9 z" fill="#f4f8ff"/>
<rect x="374.5" y="5.7" width="3" height="0.8" fill="#2c5cd8" opacity="0.55"/>
<rect x="373.2" y="2.1" width="0.9" height="0.9" fill="#e8f0ff"/>
<rect x="364" y="9" width="7.7" height="7.6" fill="#2c5cd8"/>
<rect x="364" y="9" width="7.7" height="2" fill="#1c44b8"/>
<path d="M365 12.3 h6 v3.6 h-0.9 v-0.9 h-4.2 v0.9 h-0.9 z" fill="#f4f8ff"/>
<rect x="366.5" y="13.4" width="3" height="0.8" fill="#2c5cd8" opacity="0.55"/>
<rect x="365.2" y="9.8" width="0.9" height="0.9" fill="#e8f0ff"/>
<rect x="372" y="9" width="7.7" height="7.6" fill="#38a018"/>
<rect x="372" y="9" width="7.7" height="2" fill="#2c8810"/>
<path d="M373 12.3 h6 v3.6 h-0.9 v-0.9 h-4.2 v0.9 h-0.9 z" fill="#f4f8ff"/>
<rect x="374.5" y="13.4" width="3" height="0.8" fill="#38a018" opacity="0.55"/>
<rect x="373.2" y="9.8" width="0.9" height="0.9" fill="#e8f0ff"/>
<g stroke="#585858" stroke-width="1.2" fill="none">
<path d="M402.5 3.5 V17 M400 14.5 H413"/>
</g>
<path d="M402.5 2.6 l-1.8 2.6 h3.6 z M414.2 14.5 l-2.6 -1.8 v3.6 z" fill="#585858"/>
<path d="M407.4 5.4 L410.8 8.6 L407.4 11.8 Z" fill="#a8e8a8" stroke="#109818" stroke-width="1"/>
<g stroke="#585858" stroke-width="1.2" fill="none">
<path d="M430.5 3.5 V17 M428 14.5 H441"/>
</g>
<path d="M430.5 2.6 l-1.8 2.6 h3.6 z M442.2 14.5 l-2.6 -1.8 v3.6 z" fill="#585858"/>
<path d="M436.5 3 V13" stroke="#2070b0" stroke-width="1.3"/>
<path d="M437.6 8.6 L440.4 6.6 L440 8.1 L442.4 8.1 L442.4 9.1 L440 9.1 L440.4 10.6 Z" fill="#e05808"/>
<path d="M461.5 1.6 H469.8 L472.8 4.6 V14.2 H461.5 Z" fill="#fafafa" stroke="#9a9a9a" stroke-width="0.9"/>
<path d="M469.8 1.6 V4.6 H472.8" fill="#e4e4e4" stroke="#9a9a9a" stroke-width="0.7"/>
<path d="M465.6 5 q-1.6 0 -1.6 1.6 v4 q0 1.4 1.4 1.4" stroke="#606040" stroke-width="0.9" fill="none"/>
<path d="M469.3 7.4 h3.6 v3.8 h3.8 v3.6 h-3.8 v3.8 h-3.6 v-3.8 h-3.8 v-3.6 h3.8 z" fill="#28d028" stroke="#10a010" stroke-width="0.8"/>
<path d="M482.5 8 h6 l-3 3.2 z" fill="#000"/>
<path d="M521.7 8 h6 l-3 3.2 z" fill="#000"/>
<path d="M560.4 8 h6 l-3 3.2 z" fill="#000"/>
<path d="M866.4 8 h6 l-3 3.2 z" fill="#000"/>
<circle cx="506.9" cy="9" r="7.7" fill="url(#clk)"/>
<circle cx="506.9" cy="9" r="5.3" fill="#f8f8f8"/>
<path d="M506.6 5.2 V9.2 H509.2" stroke="#101010" stroke-width="1.1" fill="none"/>
<circle cx="506.9" cy="12.6" r="0.6" fill="#70a8f0"/>
<rect x="538.4" y="2.2" width="15.2" height="13.4" fill="#fff" stroke="#3c78c8" stroke-width="1"/>
<rect x="538.9" y="2.7" width="14.2" height="2.2" fill="#4c8ce0"/>
<rect x="538.9" y="10" width="14.2" height="1" fill="#3c78c8"/>
<path d="M540.4 8.4 L542.4 8.4 L544 6.8 L545.6 6.4 L547.4 7.6 L549 7.2 L551.4 6.2" stroke="#b02010" stroke-width="1.1" fill="none"/>
<path d="M541 13.6 L542.8 13.2 L544.4 14 L546.6 13.2 L548.8 11.6 L550 12.2 L551.6 13.8" stroke="#189030" stroke-width="1.1" fill="none"/>
<path d="M590.2 2 L597.9 9.4 L594.7 10.4 L596.8 15.2 L595 16.1 L592.7 11.3 L590.2 13.2 Z" fill="#4c4c4c"/>
<path d="M615 9.5 H621 M624.2 9.5 H630 M622.5 2 V7.6 M622.5 11.4 V17" stroke="#4c4c4c" stroke-width="1.1"/>
<rect x="622" y="9" width="1" height="1" fill="#4c4c4c"/>
<path d="M656.5 3 V16" stroke="#4c4c4c" stroke-width="1.2"/>
<path d="M679 9.4 H691" stroke="#4c4c4c" stroke-width="1.2"/>
<path d="M707 16 L719 4" stroke="#4c4c4c" stroke-width="0.9"/>
<path d="M733 10.6 L741 3.4 M734.4 15.4 L746.8 4.2 M738.4 16 L746.8 8.2" stroke="#4c4c4c" stroke-width="0.9"/>
<path d="M736.5 8 L735.5 14 M739 6.5 L738 13.5 M741.8 4.6 L740.5 11 M744.5 2 L743.5 9" stroke="#4c4c4c" stroke-width="0.9"/>
<text x="743.8" y="17.8" font-size="6.6px" font-weight="bold" fill="#303030">E</text>
<path d="M762 2.6 H775.5" stroke="#4c4c4c" stroke-width="1" stroke-dasharray="1,1"/>
<path d="M762 5.6 H775.5" stroke="#4c4c4c" stroke-width="1" stroke-dasharray="1,1"/>
<path d="M762 9.6 H775.5" stroke="#4c4c4c" stroke-width="1" stroke-dasharray="1,1"/>
<path d="M762 13.6 H771" stroke="#4c4c4c" stroke-width="1" stroke-dasharray="1,1"/>
<text x="771.8" y="17.8" font-size="6.6px" font-weight="bold" fill="#303030">F</text>
<text x="793" y="13.8" font-size="12px" fill="#585858" stroke="#585858" stroke-width="0.25">A</text>
<rect x="819.5" y="3.5" width="11" height="12" fill="none" stroke="#4c4c4c" stroke-width="1" stroke-dasharray="1,1" shape-rendering="crispEdges"/>
<path d="M821 6.7 H829.2 M825.1 6.7 V13.8" stroke="#585858" stroke-width="1.4" fill="none"/>
<path d="M849.4 3 L853 6.8 H845.8 Z" fill="#505050"/>
<path d="M856.8 16 L853.2 12.2 H860.4 Z" fill="#505050"/>
<path d="M848 10.4 L850.2 12.4 L855 7.6" stroke="#505050" stroke-width="1.4" fill="none"/>
<path d="M1606.4 9.6 L1602 14" stroke="#2c64d0" stroke-width="2.4" stroke-linecap="round"/>
<circle cx="1609.6" cy="6.3" r="3.9" fill="#f4f4ff" stroke="#2c64d0" stroke-width="1.3"/>
<path d="M1629.6 17.2 L1630.6 14.8 A4.8 3.8 0 1 1 1633 15 Z" fill="#e4e4ec" stroke="#b0b0b4" stroke-width="0.8"/>
<circle cx="1640.4" cy="6.3" r="8.2" fill="url(#redb)"/>
<text x="1640.2" y="11" font-size="13px" fill="#fff" text-anchor="middle" font-family="Liberation Serif, serif">1</text>
</svg></body></html>
